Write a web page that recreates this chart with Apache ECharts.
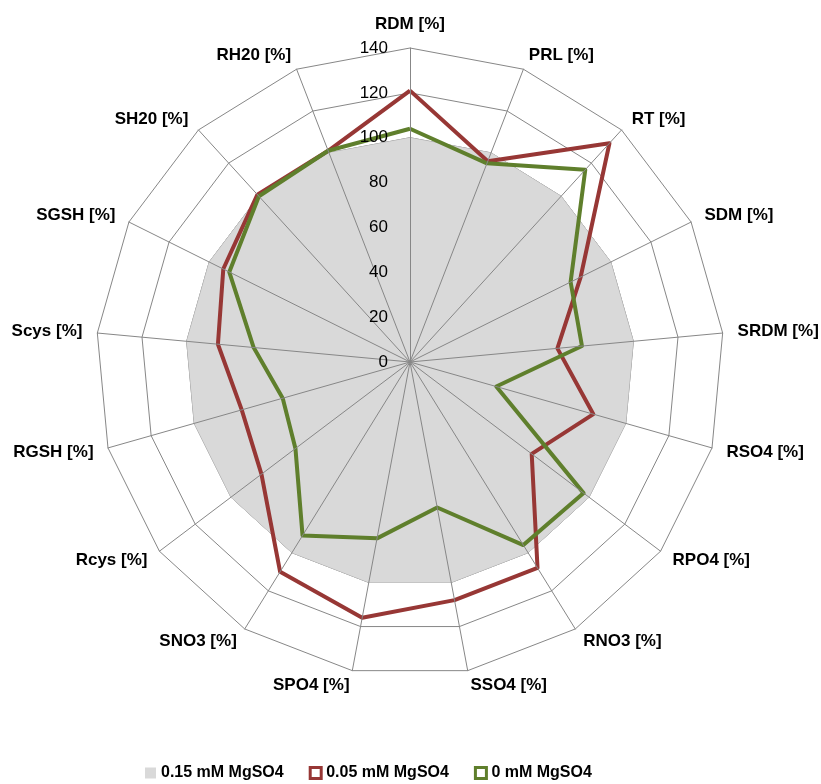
<!DOCTYPE html>
<html>
<head>
<meta charset="utf-8">
<script src="https://cdn.jsdelivr.net/npm/echarts@6/dist/echarts.min.js"></script>
<style>
  html, body { margin: 0; padding: 0; background: #fff; }
  #chart { width: 821px; height: 784px; }
</style>
</head>
<body>
<div id="chart"></div>
<script>
// Indicators, clockwise from the top
const indicators = ['RDM [%]', 'PRL [%]', 'RT [%]', 'SDM [%]', 'SRDM [%]', 'RSO4 [%]', 'RPO4 [%]',
  'RNO3 [%]', 'SSO4 [%]', 'SPO4 [%]', 'SNO3 [%]', 'Rcys [%]', 'RGSH [%]', 'Scys [%]',
  'SGSH [%]', 'SH20 [%]', 'RH20 [%]'];

// Scale: 0 to 140 in steps of 20
const scaleMax = 140;
const scaleSteps = 7;

const seriesNames = ['0.15 mM MgSO4', '0.05 mM MgSO4', '0 mM MgSO4'];

// Control (100 % everywhere)
const mg015 = [100, 100, 100, 100, 100, 100, 100, 100, 100, 100, 100, 100, 100, 100, 100, 100, 100];
// Reduced supply
const mg005 = [121, 96, 132, 85, 66, 85, 68, 108, 108, 116, 110, 83, 78, 86, 93, 101, 101];
// No supply
const mg000 = [104, 95, 116, 80, 77, 40, 97, 96, 66, 80, 91, 64, 59, 70, 90, 100, 101];

// ECharts lays radar indicators out counter-clockwise; keep the first one on top
// and reverse the rest so the chart reads clockwise.
const order = [0].concat(indicators.map((_, i) => i).slice(1).reverse());
const cw = arr => order.map(i => arr[i]);

const gridColor = '#878787';
const red = '#973735';
const green = '#5f7f2c';
const center = [410, 362];
const radius = 314;

const chart = echarts.init(document.getElementById('chart'), null, { renderer: 'canvas' });

const base = {
  center: center,
  radius: radius,
  startAngle: 90,
  shape: 'polygon',
  splitNumber: scaleSteps,
  splitArea: { show: false }
};

chart.setOption({
  animation: false,
  backgroundColor: '#ffffff',
  legend: {
    left: 145,
    top: 765,
    padding: 0,
    itemWidth: 11,
    itemHeight: 11,
    itemGap: 25,
    textStyle: { fontFamily: 'Liberation Sans', fontWeight: 'bold', fontSize: 16, color: '#000' },
    data: [
      { name: seriesNames[0], icon: 'rect', itemStyle: { color: '#d9d9d9', borderWidth: 0 } },
      { name: seriesNames[1], icon: 'rect', itemStyle: { color: '#ffffff', borderColor: red, borderWidth: 3 } },
      { name: seriesNames[2], icon: 'rect', itemStyle: { color: '#ffffff', borderColor: green, borderWidth: 3 } }
    ]
  },
  radar: [
    // rings, drawn beneath the series
    Object.assign({}, base, {
      z: 0,
      indicator: cw(indicators).map(n => ({ name: n, min: 0, max: scaleMax })),
      axisName: { show: false },
      axisLine: { show: false },
      splitLine: { lineStyle: { color: gridColor, width: 1 } }
    }),
    // spokes, names and scale labels, drawn above the series
    Object.assign({}, base, {
      z: 10,
      indicator: cw(indicators).map((n, i) => i === 0
        ? { name: n, min: 0, max: scaleMax, axisLabel: { show: true } }
        : { name: n, min: 0, max: scaleMax }),
      nameGap: 15,
      axisName: { color: '#000', fontFamily: 'Liberation Sans', fontWeight: 'bold', fontSize: 17 },
      axisLine: { lineStyle: { color: gridColor, width: 1 } },
      axisTick: { show: false },
      axisLabel: { show: false, color: '#000', fontFamily: 'Liberation Sans', fontSize: 17, margin: 22 },
      splitLine: { show: false }
    })
  ],
  series: [
    {
      name: seriesNames[0], type: 'radar', radarIndex: 0, z: 2, symbol: 'none',
      itemStyle: { color: '#d9d9d9' },
      lineStyle: { color: '#b3b3b3', width: 1 },
      areaStyle: { color: '#d9d9d9', opacity: 1 },
      data: [{ name: seriesNames[0], value: cw(mg015) }]
    },
    {
      name: seriesNames[1], type: 'radar', radarIndex: 0, z: 3, symbol: 'none',
      itemStyle: { color: red },
      lineStyle: { color: red, width: 4 },
      data: [{ name: seriesNames[1], value: cw(mg005) }]
    },
    {
      name: seriesNames[2], type: 'radar', radarIndex: 0, z: 4, symbol: 'none',
      itemStyle: { color: green },
      lineStyle: { color: green, width: 4 },
      data: [{ name: seriesNames[2], value: cw(mg000) }]
    }
  ]
});
</script>
</body>
</html>
